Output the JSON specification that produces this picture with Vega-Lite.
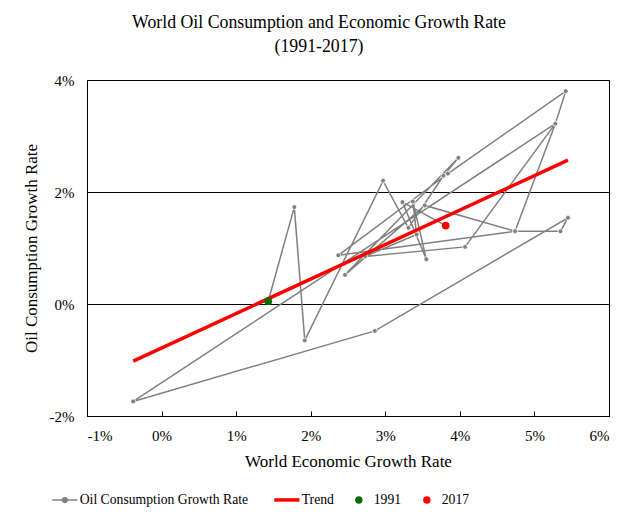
{
  "$schema": "https://vega.github.io/schema/vega-lite/v6.json",
  "width": 522,
  "height": 336,
  "autosize": "none",
  "padding": {"left": 87, "top": 80, "right": 31, "bottom": 114},
  "background": "white",
  "config": {
    "font": "Liberation Serif",
    "view": {"stroke": "#000000", "strokeWidth": 1},
    "axis": {"labelFont": "Liberation Serif", "titleFont": "Liberation Serif"},
    "legend": {"labelFont": "Liberation Serif", "titleFont": "Liberation Serif"}
  },
  "title": {
    "text": ["World Oil Consumption and Economic Growth Rate", "(1991-2017)"],
    "font": "Liberation Serif",
    "fontSize": 17.8,
    "fontWeight": "normal",
    "color": "#000000",
    "anchor": "middle",
    "dx": -29,
    "offset": 17,
    "lineHeight": 24
  },
  "datasets": {
    "oil": [
      {"year": 1991, "gdp": 1.43, "oil": 0.05},
      {"year": 1992, "gdp": 1.78, "oil": 1.73},
      {"year": 1993, "gdp": 1.92, "oil": -0.65},
      {"year": 1994, "gdp": 2.97, "oil": 2.20},
      {"year": 1995, "gdp": 3.31, "oil": 1.36},
      {"year": 1996, "gdp": 3.78, "oil": 2.29},
      {"year": 1997, "gdp": 3.98, "oil": 2.61},
      {"year": 1998, "gdp": 2.46, "oil": 0.52},
      {"year": 1999, "gdp": 3.53, "oil": 1.76},
      {"year": 2000, "gdp": 4.74, "oil": 1.30},
      {"year": 2001, "gdp": 2.37, "oil": 0.87},
      {"year": 2002, "gdp": 3.84, "oil": 2.33},
      {"year": 2003, "gdp": 5.42, "oil": 3.80},
      {"year": 2004, "gdp": 5.28, "oil": 3.22},
      {"year": 2005, "gdp": 4.74, "oil": 1.30},
      {"year": 2006, "gdp": 5.35, "oil": 1.30},
      {"year": 2007, "gdp": 5.45, "oil": 1.54},
      {"year": 2008, "gdp": 2.86, "oil": -0.48},
      {"year": 2009, "gdp": -0.38, "oil": -1.74},
      {"year": 2010, "gdp": 5.28, "oil": 3.22},
      {"year": 2011, "gdp": 4.07, "oil": 1.02},
      {"year": 2012, "gdp": 2.73, "oil": 0.85},
      {"year": 2013, "gdp": 3.42, "oil": 1.24},
      {"year": 2014, "gdp": 3.37, "oil": 1.83},
      {"year": 2015, "gdp": 3.55, "oil": 0.80},
      {"year": 2016, "gdp": 3.23, "oil": 1.82},
      {"year": 2017, "gdp": 3.81, "oil": 1.40}
    ],
    "trend": [
      {"gdp": -0.38, "oil": -1.02},
      {"gdp": 5.45, "oil": 2.57}
    ],
    "marks": [
      {"label": "1991", "gdp": 1.43, "oil": 0.05},
      {"label": "2017", "gdp": 3.81, "oil": 1.40}
    ]
  },
  "layer": [
    {
      "data": {"name": "oil"},
      "mark": {"type": "line", "strokeWidth": 1.5, "clip": false},
      "encoding": {
        "x": {
          "field": "gdp",
          "type": "quantitative",
          "scale": {"domain": [-1, 6], "nice": false, "zero": false},
          "axis": {
            "title": "World Economic Growth Rate",
            "values": [-1, 0, 1, 2, 3, 4, 5, 6],
            "labelExpr": "datum.value + '%'",
            "grid": false,
            "domainColor": "#000000",
            "tickColor": "#000000",
            "tickSize": -5,
            "labelFontSize": 15,
            "labelColor": "#000000",
            "labelPadding": 17,
            "titleFontSize": 17,
            "titleFontWeight": "normal",
            "titleColor": "#000000",
            "titlePadding": 10
          }
        },
        "y": {
          "field": "oil",
          "type": "quantitative",
          "scale": {"domain": [-2, 4], "nice": false, "zero": false},
          "axis": {
            "title": "Oil Consumption Growth Rate",
            "values": [-2, 0, 2, 4],
            "labelExpr": "datum.value + '%'",
            "grid": true,
            "gridColor": "#000000",
            "gridOpacity": 1,
            "gridWidth": 1,
            "domain": false,
            "ticks": false,
            "labelFontSize": 15,
            "labelColor": "#000000",
            "labelPadding": 13,
            "titleFontSize": 17,
            "titleFontWeight": "normal",
            "titleColor": "#000000",
            "titlePadding": 9
          }
        },
        "order": {"field": "year"},
        "color": {
          "datum": "Oil Consumption Growth Rate",
          "type": "nominal",
          "title": null,
          "scale": {
            "domain": ["Oil Consumption Growth Rate", "Trend", "1991", "2017"],
            "range": ["#808080", "#ff0000", "#0a6b0a", "#ff0000"]
          },
          "legend": {
            "orient": "none",
            "legendX": -29,
            "legendY": 413,
            "direction": "horizontal",
            "title": null,
            "labelFont": "Liberation Serif",
            "labelFontSize": 13.7,
            "labelColor": "#000000",
            "labelLimit": 0,
            "labelOffset": 8,
            "columnPadding": 18,
            "symbolSize": 784,
            "labelExpr": "datum.label === 'Trend' ? 'Trend\u00a0\u00a0\u00a0' : datum.label === '1991' ? '\u00a01991\u00a0\u00a0\u00a0\u00a0\u00a0' : datum.label === '2017' ? '\u00a02017' : datum.label",
            "encode": {
              "symbols": {
                "update": {
                  "shape": {"signal": "datum.value === 'Oil Consumption Growth Rate' ? 'M-0.9,0H0.9M-0.17,0A0.17,0.17,0,1,0,0.17,0A0.17,0.17,0,1,0,-0.17,0' : datum.value === 'Trend' ? 'M-0.9,0H0.9' : 'circle'"},
                  "size": {"signal": "(datum.value === '1991' || datum.value === '2017') ? 55 : 784"},
                  "stroke": {"signal": "scale('color', datum.value)"},
                  "strokeWidth": {"signal": "datum.value === 'Trend' ? 3.5 : (datum.value === 'Oil Consumption Growth Rate' ? 1.5 : 0)"},
                  "fill": {"signal": "datum.value === 'Trend' ? 'transparent' : scale('color', datum.value)"},
                  "opacity": {"value": 1}
                }
              }
            }
          }
        }
      }
    },
    {
      "data": {"name": "oil"},
      "mark": {"type": "point", "filled": true, "size": 24, "color": "#808080", "stroke": "#ffffff", "strokeWidth": 0.8, "opacity": 1},
      "encoding": {
        "x": {"field": "gdp", "type": "quantitative"},
        "y": {"field": "oil", "type": "quantitative"}
      }
    },
    {
      "data": {"name": "trend"},
      "mark": {"type": "line", "strokeWidth": 3.5},
      "encoding": {
        "x": {"field": "gdp", "type": "quantitative"},
        "y": {"field": "oil", "type": "quantitative"},
        "color": {"datum": "Trend", "type": "nominal", "title": null}
      }
    },
    {
      "data": {"name": "marks"},
      "mark": {"type": "point", "filled": true, "size": 60, "opacity": 1},
      "encoding": {
        "x": {"field": "gdp", "type": "quantitative"},
        "y": {"field": "oil", "type": "quantitative"},
        "color": {"field": "label", "type": "nominal", "title": null}
      }
    }
  ]
}
